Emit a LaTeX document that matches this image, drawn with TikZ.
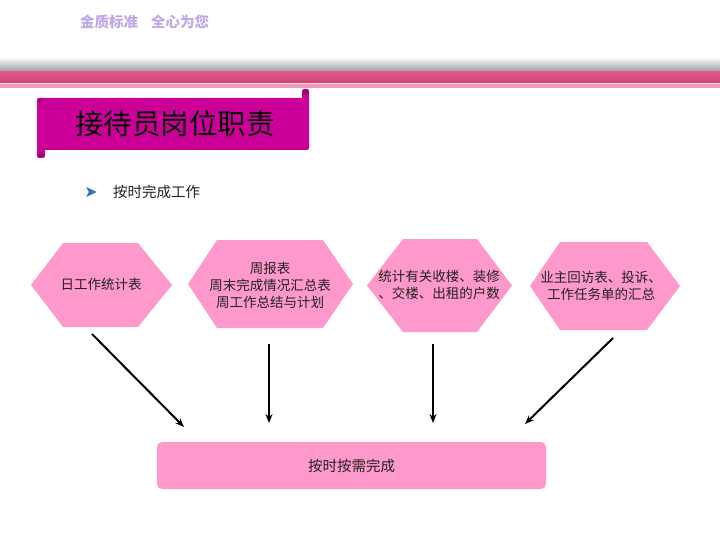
\documentclass[tikz,border=0pt]{standalone}
\usepackage{fontspec}
\setmainfont{Noto Sans CJK SC}
\usetikzlibrary{arrows.meta}
\definecolor{hexpink}{HTML}{FF99CC}
\definecolor{titlemag}{HTML}{CC0099}
\definecolor{titledark}{HTML}{99006F}
\definecolor{headtxt}{HTML}{C0A8E8}
\definecolor{bandpinkA}{HTML}{E2558A}
\definecolor{bandpinkB}{HTML}{C84874}
\definecolor{bandlight}{HTML}{EE9AB8}
\definecolor{txtdark}{HTML}{222222}
\definecolor{bulletblue}{HTML}{2E6FC0}
\tikzset{
  hexfill/.style={fill=hexpink, draw=none},
  hextext/.style={font=\fontsize{13.5}{17}\selectfont, text=txtdark, align=center, inner sep=0pt},
  flowarrow/.style={-{Stealth[length=9pt,width=7pt]}, line width=2pt, black},
}
\begin{document}
\begin{tikzpicture}[x=1pt,y=-1pt]
\useasboundingbox (0,0) rectangle (720,540);
\fill[white] (0,0) rectangle (720,540);
% header text
\node[font=\fontsize{14.5}{16}\selectfont\bfseries, text=headtxt, anchor=west, inner sep=0pt] (head) at (80,22) {金质标准\hspace{0.9em}全心为您};
% bands
\shade[top color=white, bottom color=black!40] (0,57) rectangle (720,72);
\shade[top color=bandpinkA, bottom color=bandpinkB] (0,72) rectangle (720,83);
\fill[white!60!bandlight] (0,83) rectangle (720,84);
\fill[bandlight] (0,84) rectangle (720,88);
% title scroll
\fill[titlemag, rounded corners=2pt] (302,89) rectangle (309,150);
\fill[titlemag, rounded corners=2pt] (37,98) rectangle (308,150);
\fill[titlemag, rounded corners=2pt] (37,98) rectangle (45,158);
\fill[titledark] (305.5,92.5) circle (3pt);
\fill[titledark] (41,154.5) circle (3pt);
\fill[titledark] (40,101) circle (1.8pt);
\node[font=\fontsize{28.5}{30}\selectfont, text=black, inner sep=0pt] (title) at (175,124) {接待员岗位职责};
% bullet
\node[text=bulletblue, font=\fontsize{16}{16}\selectfont, inner sep=0pt] (bul) at (91,192) {\fontspec{DejaVu Sans}➤};
\node[font=\fontsize{14.5}{16}\selectfont, text=txtdark, anchor=west, inner sep=0pt] (bultxt) at (113,192) {按时完成工作};
% hexagons
\fill[hexfill] (31,285) -- (63,243) -- (138,243) -- (172,285) -- (138,327) -- (63,327) -- cycle;
\fill[hexfill] (188,284) -- (217,240) -- (323,240) -- (353,284) -- (323,328) -- (217,328) -- cycle;
\fill[hexfill] (367,285.5) -- (403,239) -- (477,239) -- (512,285.5) -- (477,332) -- (403,332) -- cycle;
\fill[hexfill] (530,286) -- (560,242) -- (647,242) -- (680,286) -- (647,330) -- (560,330) -- cycle;
\node[hextext] (h1) at (101,284) {日工作统计表};
\node[hextext] (h2) at (270,285) {周报表\\周末完成情况汇总表\\周工作总结与计划};
\node[hextext] (h3) at (439,285) {统计有关收楼、装修\\、交楼、出租的户数};
\node[hextext] (h4) at (601,286) {业主回访表、投诉、\\工作任务单的汇总};
% bottom box
\node[fill=hexpink, rounded corners=5pt, minimum width=389pt, minimum height=47pt, inner sep=0pt,
      font=\fontsize{14.5}{16}\selectfont, text=txtdark] (done) at (351.5,465.5) {按时按需完成};
% arrows
\coordinate (a1s) at (92,334);  \coordinate (a1e) at (184,427);
\coordinate (a2s) at (269,344); \coordinate (a2e) at (269,423);
\coordinate (a3s) at (433,344); \coordinate (a3e) at (433,423);
\coordinate (a4s) at (613,338); \coordinate (a4e) at (525,424);
\draw[flowarrow] (a1s) -- (a1e);
\draw[flowarrow] (a2s) -- (a2e);
\draw[flowarrow] (a3s) -- (a3e);
\draw[flowarrow] (a4s) -- (a4e);
\end{tikzpicture}
\end{document}
